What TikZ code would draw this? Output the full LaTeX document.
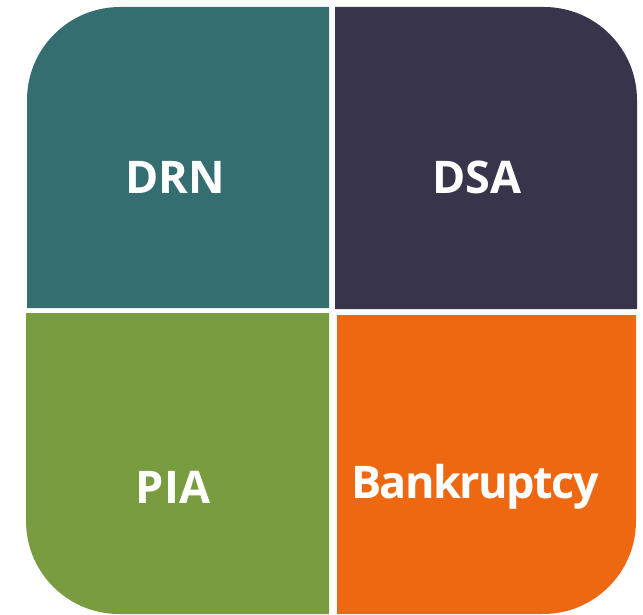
\documentclass[tikz,border=0pt]{standalone}
\usepackage{fontspec}
\setmainfont{Open Sans}
\definecolor{drnteal}{HTML}{356E70}
\definecolor{dsanavy}{HTML}{37344C}
\definecolor{piagreen}{HTML}{7A9C40}
\definecolor{bankorange}{HTML}{EE6811}
\tikzset{
  label text/.style={text=white, font=\fontsize{45}{54}\selectfont\bfseries, inner sep=0pt, anchor=center},
  outer corner/.style={rounded corners=93pt}
}
\begin{document}
\begin{tikzpicture}[x=1pt, y=-1pt]
\useasboundingbox (0,0) rectangle (643,615);
% four quadrants, each rounded only at its outer corner
\fill[drnteal] (329,308) -- (27,308) [outer corner]-- (27,7) [sharp corners]-- (329,7) -- cycle;
\fill[dsanavy] (335,309) -- (335,7) [outer corner]-- (637,7) [sharp corners]-- (637,309) -- cycle;
\fill[piagreen] (329,313) -- (26,313) [outer corner]-- (26,614) [sharp corners]-- (329,614) -- cycle;
\fill[bankorange] (337,315) -- (337,614) [outer corner]-- (636,614) [sharp corners]-- (636,315) -- cycle;
% labels
\node[label text] (drn) at (175,177) {DRN};
\node[label text] (dsa) at (477,177) {DSA};
\node[label text] (pia) at (173,487) {PIA};
\node[label text] (bank) at (475,487) {\addfontfeature{LetterSpace=-3.5}Bankruptcy};
\end{tikzpicture}
\end{document}
